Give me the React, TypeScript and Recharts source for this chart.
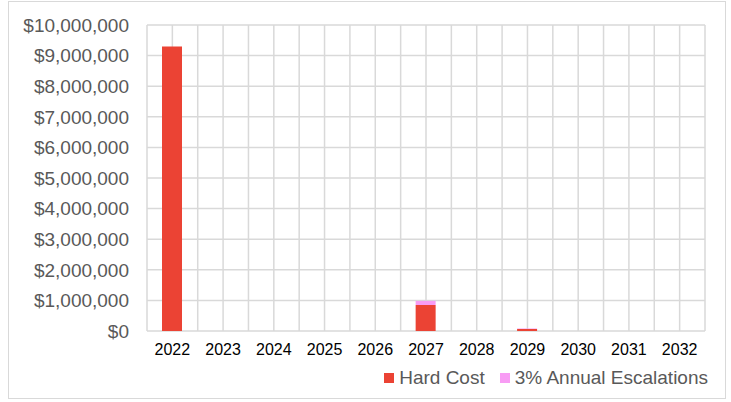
import React from "react";
import {
  BarChart,
  Bar,
  XAxis,
  YAxis,
  CartesianGrid,
  Legend,
} from "recharts";

const years = ["2022", "2023", "2024", "2025", "2026", "2027", "2028", "2029", "2030", "2031", "2032"];
const hardCost = [9300000, 0, 0, 0, 0, 850000, 0, 63000, 0, 0, 0];
const escalations = [0, 0, 0, 0, 0, 135000, 0, 15000, 0, 0, 0];
const yTicks = [0, 1000000, 2000000, 3000000, 4000000, 5000000, 6000000, 7000000, 8000000, 9000000, 10000000];

const RED = "#EB4334";
const PINK = "#F89CF4";
const TEXT = "#595959";
const GRID = "#D9D9D9";
const FONT = "'Liberation Sans', Arial, sans-serif";

const data = years.map((year, i) => ({
  year,
  hardCost: hardCost[i],
  escalations: escalations[i],
}));

const money = (v: number) => "$" + v.toLocaleString("en-US");

// gridlines on category edges and centres, like the source sheet
function verticalLines({ offset }: any) {
  const step = offset.width / years.length;
  const out: number[] = [];
  for (let i = 0; i <= years.length * 2; i++) out.push(offset.left + (step * i) / 2);
  return out;
}

function LegendBox() {
  const items = [
    { label: "Hard Cost", color: RED },
    { label: "3% Annual Escalations", color: PINK },
  ];
  return (
    <div style={{ display: "flex", alignItems: "center", fontFamily: FONT, fontSize: 19, color: TEXT, lineHeight: "22px" }}>
      {items.map((it, i) => (
        <div key={it.label} style={{ display: "flex", alignItems: "center", marginLeft: i === 0 ? 0 : 15 }}>
          <span style={{ width: 10, height: 10, background: it.color, marginRight: 5, display: "inline-block" }} />
          <span>{it.label}</span>
        </div>
      ))}
    </div>
  );
}

export default function App() {
  return (
    <div
      style={{
        position: "absolute",
        left: 8,
        top: 1,
        width: 718,
        height: 398,
        border: `1px solid ${GRID}`,
        boxSizing: "border-box",
        background: "#fff",
      }}
    >
      <BarChart
        width={716}
        height={396}
        data={data}
        margin={{ top: 23, right: 20, left: 0, bottom: 37 }}
        barSize={20}
      >
        <CartesianGrid stroke={GRID} strokeWidth={1.5} verticalCoordinatesGenerator={verticalLines} />
        <XAxis
          dataKey="year"
          axisLine={false}
          tickLine={false}
          tickMargin={7}
          interval={0}
          tick={{ fill: "#000", fontSize: 16, fontFamily: FONT }}
        />
        <YAxis
          width={138}
          domain={[0, 10000000]}
          ticks={yTicks}
          interval={0}
          axisLine={false}
          tickLine={false}
          tickMargin={12}
          tickFormatter={money}
          tick={{ fill: TEXT, fontSize: 19, fontFamily: FONT }}
        />
        <Legend
          layout="horizontal"
          verticalAlign="middle"
          align="center"
          content={<LegendBox />}
          wrapperStyle={{ top: 365, right: 17, left: "auto", bottom: "auto", width: "auto" }}
        />
        <Bar dataKey="hardCost" stackId="a" fill={RED} isAnimationActive={false} />
        <Bar dataKey="escalations" stackId="a" fill={PINK} isAnimationActive={false} />
      </BarChart>
    </div>
  );
}
